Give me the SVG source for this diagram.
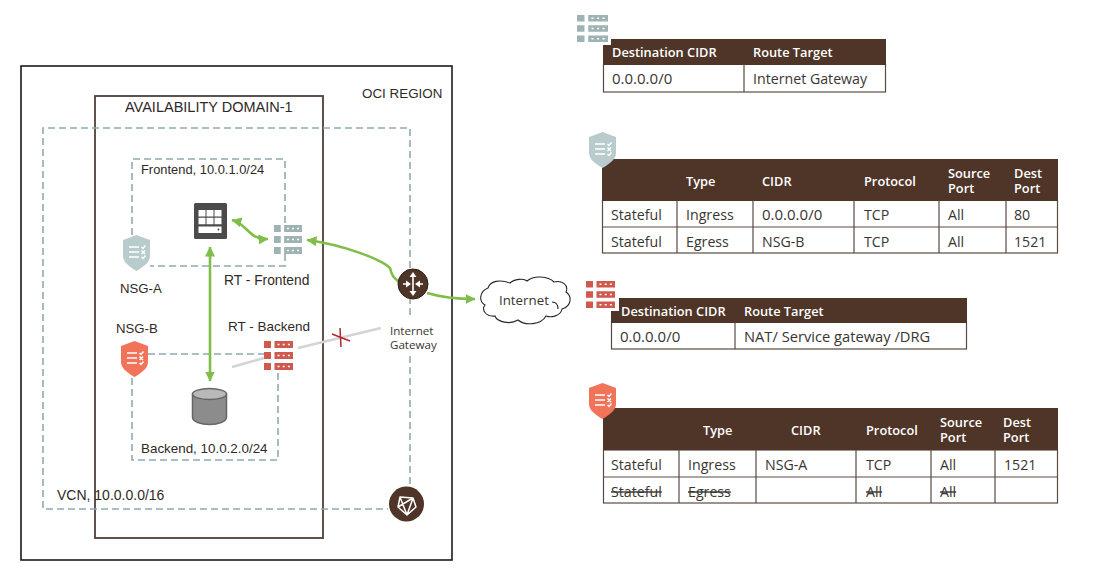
<svg xmlns="http://www.w3.org/2000/svg" width="1100" height="570" viewBox="0 0 1100 570">
<style>
.bg{fill:#fff}
.dash{fill:none;stroke:#8fabae;stroke-width:1.6;stroke-dasharray:7 4}
.lbl{font-family:"Liberation Sans",Arial,sans-serif;font-size:14px;fill:#2f2a28}
.n{font-size:13.2px}
.o{font-family:"Open Sans","Noto Sans",sans-serif;font-size:14.2px;fill:#3a3532}
.z{font-size:15px}
.ig{font-size:11.6px}
.h{font-family:"Open Sans","Noto Sans",sans-serif;font-size:12.8px;font-weight:600;fill:#fff}
.s{text-decoration:line-through}
.hdr{fill:#4f3528}
.cell{fill:#fff;stroke:#5a4a44;stroke-width:1.2}
.grid{stroke:#5a4a44;stroke-width:1.2;fill:none}
.g{fill:none;stroke:#81bd4b;stroke-width:2.6}
.rtg{color:#9fb3b5}
.rtr{color:#d0594e}
.shg{color:#b9cccd}
.shr{color:#f0735a}
</style>
<defs>
<marker id="ah" markerUnits="userSpaceOnUse" markerWidth="11" markerHeight="11" refX="9.5" refY="5" orient="auto-start-reverse"><path d="M0 0L10 5L0 10Z" fill="#81bd4b"/></marker>
<symbol id="rt" viewBox="0 0 29 29" preserveAspectRatio="none">
<g fill="currentColor">
<rect width="7" height="7"/><rect x="10.5" width="18.5" height="7"/>
<rect y="11" width="7" height="7"/><rect x="10.5" y="11" width="18.5" height="7"/>
<rect y="22" width="7" height="7"/><rect x="10.5" y="22" width="18.5" height="7"/>
</g>
<path fill="#fff" d="M13.5 2.8h2v1.4h-2zM18.7 2.8h2v1.4h-2zM23.9 2.8h2v1.4h-2zM13.5 13.8h2v1.4h-2zM18.7 13.8h2v1.4h-2zM23.9 13.8h2v1.4h-2zM13.5 24.8h2v1.4h-2zM18.7 24.8h2v1.4h-2zM23.9 24.8h2v1.4h-2z"/>
</symbol>
<symbol id="sh" viewBox="0 0 27 36">
<path fill="currentColor" d="M13.5 0L27 5V21C27 28 19 32.5 13.5 36C8 32.5 0 28 0 21V5Z"/>
<path stroke="#fff" stroke-width="1.5" fill="none" d="M6 12H16M6 17H16M6 22H16M18.5 12l1.500 1.500 2.500-3M18.500 15.500l3.500 3.500M22 15.500l-3.500 3.500M18.500 22l1.500 1.500 2.500-3"/>
</symbol>
</defs>
<rect class="bg" width="1100" height="570"/>

<g id="oci-region"><rect x="21" y="66" width="431" height="494" fill="none" stroke="#1f1a18" stroke-width="1.6"/><text class="lbl" style="font-size:13.4px" x="362" y="98">OCI REGION</text></g>
<g id="availability-domain"><rect x="95" y="96" width="228" height="442" fill="none" stroke="#4f3f39" stroke-width="1.8"/><text class="lbl" style="font-size:14.5px" x="125" y="112">AVAILABILITY DOMAIN-1</text></g>
<g id="vcn"><path class="dash" d="M410 268V128H43V509H388M410 484V355M410 315V299"/><text class="lbl" x="57" y="500">VCN, 10.0.0.0/16</text></g>
<g id="frontend-subnet"><path class="dash" d="M132 235V159H285V225M285 254V266H150"/><text class="lbl" style="font-size:12.9px" x="141" y="174">Frontend, 10.0.1.0/24</text></g>
<g id="backend-subnet"><path class="dash" d="M148 354H264M278 373V460H132V375"/><text class="lbl" style="font-size:13.4px" x="141" y="453">Backend, 10.0.2.0/24</text></g>

<g id="connectors">
<path class="g" marker-start="url(#ah)" marker-end="url(#ah)" d="M210 247V381"/>
<path class="g" marker-start="url(#ah)" marker-end="url(#ah)" d="M232 220C248 224 248 240 268 239"/>
<path class="g" marker-start="url(#ah)" d="M307 240C345 245 382 260 390 268C392 276 393 277 399 282"/>
<path class="g" marker-end="url(#ah)" d="M427 293C440 297 455 299 475 299"/>
<path fill="none" stroke="#d4d4d4" stroke-width="2.6" d="M232 367L264 358M298 348L381 328"/>
<path fill="none" stroke="#b5232b" stroke-width="1.5" d="M332 334L350 341M340 328L341 347"/>
</g>

<g id="compute"><rect x="194" y="203" width="33" height="36" rx="1.5" fill="#4b4b4b"/><path fill="#fff" d="M198.500 210h7v6.500h-7zM206.500 210h7v6.500h-7zM214.500 210h7v6.500h-7zM198.500 217.800h7v6.500h-7zM206.500 217.800h7v6.500h-7zM214.500 217.800h7v6.500h-7z"/><rect x="198.500" y="226.500" width="23" height="6.500" fill="#fff"/><circle cx="218.500" cy="229.500" r="1" fill="#4b4b4b"/></g>
<g id="rt-frontend"><use href="#rt" class="rtg" x="274" y="225" width="28" height="29"/><text class="lbl" style="font-size:13.8px" x="224" y="285">RT - Frontend</text></g>
<g id="nsg-a"><use href="#sh" class="shg" x="123" y="235" width="27" height="36"/><text class="lbl n" x="120" y="293">NSG-A</text></g>
<g id="nsg-b"><use href="#sh" class="shr" x="121" y="341" width="27" height="36"/><text class="lbl n" x="116" y="333">NSG-B</text></g>
<g id="rt-backend"><use href="#rt" class="rtr" x="264" y="341" width="29" height="29"/><text class="lbl" style="font-size:13.5px" x="228" y="331">RT - Backend</text></g>
<g id="database"><path d="M192.500 394V417C192.500 427 226.500 427 226.500 417V394Z" fill="#8c8c8c" stroke="#666" stroke-width="1.5"/><ellipse cx="209.500" cy="394" rx="17" ry="5.500" fill="#b9b9b9" stroke="#666" stroke-width="1.5"/></g>
<g id="internet-gateway"><circle cx="413" cy="284" r="15" fill="#4f3528" stroke="#2c1d16"/><path fill="none" stroke="#fff" stroke-width="1.6" d="M413 275V293M403 284H410M416 284H423"/><path fill="#fff" d="M413 272l-3.500 5h7zM413 296l-3.500-5h7zM411 284l-5-3.500v7zM415 284l5-3.500v7z"/><text class="o ig" x="390" y="335">Internet<tspan x="390" dy="14">Gateway</tspan></text></g>
<g id="vcn-icon"><circle cx="406.500" cy="504" r="17.500" fill="#4f3528"/><path fill="none" stroke="#fff" stroke-width="1.5" stroke-linejoin="round" d="M400 497L413 498L416 507L407 515L398 507ZM400 497L407 515M413 498L398 507M413 498L407 515"/></g>
<g id="internet"><path fill="#fff" stroke="#2a2624" stroke-width="1.1" d="M488 288C490 281 500 279 510 283C514 279 524 278 527 281C534 275 548 276 554 282C562 280 569 285 566 292C572 296 572 306 562 309C561 316 551 318 546 316C541 325 525 326 518 320C510 325 497 322 495 316C486 317 481 310 485 305C478 301 480 291 488 288Z"/><path fill="none" stroke="#2a2624" stroke-width="1.1" d="M552 302C556 302 558 305 558 309"/><text class="o" style="font-size:13.3px" x="499" y="305">Internet</text></g>

<g id="table-rt-frontend">
<rect class="cell" x="603.500" y="64" width="282" height="28"/><rect class="hdr" x="603" y="39" width="283" height="26"/><path class="grid" d="M744 64V92"/>
<text class="h" x="612" y="57">Destination CIDR</text><text class="h" x="753" y="57">Route Target</text>
<text class="o z" x="612" y="84">0.0.0.0/0</text><text class="o" x="753" y="84">Internet Gateway</text>
<rect class="bg" x="574" y="12" width="37" height="33"/><use href="#rt" class="rtg" x="577" y="15" width="31" height="27"/>
</g>
<g id="table-nsg-a">
<rect class="cell" x="602.500" y="200" width="455" height="53"/><rect class="hdr" x="602" y="159" width="456" height="42"/><path class="grid" d="M603 227H1058M677 200V253M753 200V253M854 200V253M939 200V253M1006 200V253"/>
<text class="h" x="686" y="186">Type</text><text class="h" x="762" y="186">CIDR</text><text class="h" x="864" y="186">Protocol</text><text class="h" x="948" y="178">Source<tspan x="948" dy="15">Port</tspan></text><text class="h" x="1014" y="178">Dest<tspan x="1014" dy="15">Port</tspan></text>
<text class="o" x="611" y="220">Stateful</text><text class="o" x="686" y="220">Ingress</text><text class="o z" x="762" y="220">0.0.0.0/0</text><text class="o" x="864" y="220">TCP</text><text class="o" x="948" y="220">All</text><text class="o" x="1014" y="220">80</text>
<text class="o" x="611" y="247">Stateful</text><text class="o" x="686" y="247">Egress</text><text class="o" x="762" y="247">NSG-B</text><text class="o" x="864" y="247">TCP</text><text class="o" x="948" y="247">All</text><text class="o" x="1014" y="247">1521</text>
<use href="#sh" class="shg" x="589" y="132" width="27" height="36"/>
</g>
<g id="table-rt-backend">
<rect class="cell" x="611.500" y="322" width="355" height="27"/><rect class="hdr" x="611" y="298" width="356" height="25"/><path class="grid" d="M735 322V349"/>
<text class="h" x="621" y="316">Destination CIDR</text><text class="h" x="744" y="316">Route Target</text>
<text class="o z" x="620" y="342">0.0.0.0/0</text><text class="o" style="font-size:14.7px" x="744" y="342">NAT/ Service gateway /DRG</text>
<rect class="bg" x="583" y="279" width="36" height="32"/><use href="#rt" class="rtr" x="586" y="281" width="29" height="27"/>
</g>
<g id="table-nsg-b">
<rect class="cell" x="603.500" y="450" width="454" height="53"/><rect class="hdr" x="603" y="408" width="455" height="42"/><path class="grid" d="M604 477H1058M679 450V503M756 450V503M856 450V503M931 450V503M995 450V503"/>
<text class="h" x="703" y="435">Type</text><text class="h" x="791" y="435">CIDR</text><text class="h" x="866" y="435">Protocol</text><text class="h" x="940" y="427">Source<tspan x="940" dy="15">Port</tspan></text><text class="h" x="1003" y="427">Dest<tspan x="1003" dy="15">Port</tspan></text>
<text class="o" x="611" y="470">Stateful</text><text class="o" x="688" y="470">Ingress</text><text class="o" x="765" y="470">NSG-A</text><text class="o" x="866" y="470">TCP</text><text class="o" x="940" y="470">All</text><text class="o" x="1004" y="470">1521</text>
<text class="o s" x="611" y="497">Stateful</text><text class="o s" x="688" y="497">Egress</text><text class="o s" x="866" y="497">All</text><text class="o s" x="940" y="497">All</text>
<use href="#sh" class="shr" x="589" y="383" width="27" height="36"/>
</g>
</svg>
